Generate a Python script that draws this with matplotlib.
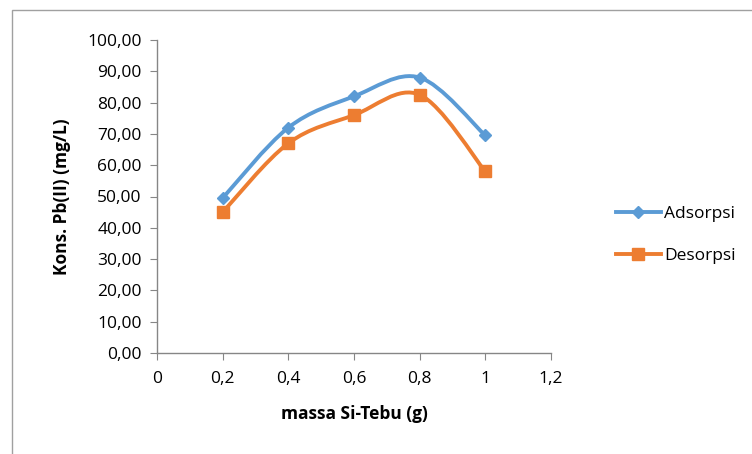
import matplotlib
matplotlib.use("Agg")
import matplotlib.pyplot as plt
from matplotlib.path import Path
from matplotlib.patches import PathPatch, Rectangle
from matplotlib.lines import Line2D
from matplotlib.ticker import FuncFormatter
import numpy as np

plt.rcParams['font.family'] = ['Open Sans', 'DejaVu Sans']

# Data
massa = [0.2, 0.4, 0.6, 0.8, 1.0]
adsorpsi = [49.5, 72.0, 82.0, 88.0, 69.5]
desorpsi = [45.0, 67.0, 76.0, 82.5, 58.0]
series_names = ["Adsorpsi", "Desorpsi"]

blue = "#5B9BD5"
orange = "#ED7D31"
grey = "#868686"
fs = 12.5


def smooth_path(xs, ys):
    # excel-like smoothed line (catmull-rom as cubic bezier)
    pts = np.column_stack([xs, ys])
    n = len(pts)
    verts = [pts[0]]
    codes = [Path.MOVETO]
    for i in range(n - 1):
        p0 = pts[max(i - 1, 0)]
        p1 = pts[i]
        p2 = pts[i + 1]
        p3 = pts[min(i + 2, n - 1)]
        c1 = p1 + (p2 - p0) / 6.0
        c2 = p2 - (p3 - p1) / 6.0
        verts += [c1, c2, p2]
        codes += [Path.CURVE4] * 3
    return Path(verts, codes)


fig = plt.figure(figsize=(7.52, 4.54), dpi=100)
ax = fig.add_axes([157 / 752, 1 - 353 / 454, 394 / 752, 313 / 454])

for ys, col, mk, ms in [(adsorpsi, blue, "D", 6), (desorpsi, orange, "s", 9)]:
    ax.add_patch(PathPatch(smooth_path(massa, ys), fill=False, edgecolor=col,
                           lw=2.8, capstyle="round", joinstyle="round", zorder=3))
    ax.plot(massa, ys, ls="none", marker=mk, ms=ms, color=col, zorder=4)

ax.set_xlim(0, 1.2)
ax.set_ylim(0, 100)
ax.set_xticks(np.arange(0, 1.21, 0.2))
ax.set_yticks(np.arange(0, 101, 10))

def fmt_x(v, p):
    s = "{:g}".format(round(v, 1))
    return s.replace(".", ",")

ax.xaxis.set_major_formatter(FuncFormatter(fmt_x))
ax.yaxis.set_major_formatter(FuncFormatter(lambda v, p: "{:.2f}".format(v).replace(".", ",")))

for side in ["top", "right"]:
    ax.spines[side].set_visible(False)
for side in ["left", "bottom"]:
    ax.spines[side].set_color(grey)
    ax.spines[side].set_linewidth(1)
ax.tick_params(axis="both", direction="out", length=5, color=grey, labelsize=fs,
               labelcolor="black", pad=6)
ax.tick_params(axis="x", pad=8)

ax.set_xlabel("massa Si-Tebu (g)", fontsize=fs, fontweight="bold", labelpad=13)
ax.set_ylabel("Kons. Pb(II) (mg/L)", fontsize=fs, fontweight="bold", labelpad=12)

handles = [Line2D([], [], color=blue, lw=2.8, marker="D", ms=6),
           Line2D([], [], color=orange, lw=2.8, marker="s", ms=9)]
fig.legend(handles, series_names, loc="center left", bbox_to_anchor=(600 / 752, 1 - 235 / 454),
           frameon=False, fontsize=fs, handlelength=2.6, labelspacing=1.5, handletextpad=0.2)

# chart border
fig.add_artist(Rectangle((12 / 752, -0.1), 1.0, 1 - 10 / 454 + 0.1, transform=fig.transFigure,
                         fill=False, edgecolor="#A0A0A0", lw=1))

fig.savefig("out.png", dpi=100)
